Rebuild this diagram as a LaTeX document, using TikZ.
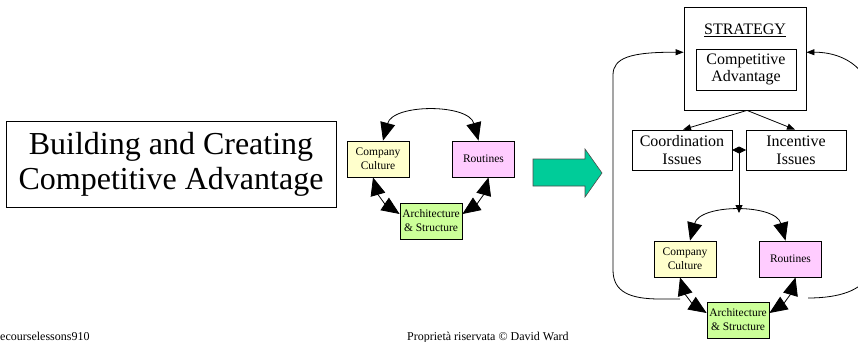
\documentclass[tikz,border=0pt]{standalone}
\usepackage{fontspec}
\setmainfont{Liberation Serif}
\usetikzlibrary{arrows.meta,calc}
\definecolor{ccfill}{RGB}{255,255,204}
\definecolor{rtfill}{RGB}{255,204,255}
\definecolor{asfill}{RGB}{204,255,153}
\definecolor{arrowgreen}{RGB}{0,204,153}
\begin{document}
\begin{tikzpicture}[x=1pt,y=-1pt,
  box/.style={draw, line width=0.8pt, inner sep=0pt, align=center},
  smallbox/.style={box, minimum width=62pt, minimum height=36pt, font=\fontsize{11.5}{14}\selectfont},
  issuebox/.style={box, minimum width=100pt, minimum height=40pt, font=\fontsize{16}{18}\selectfont},
  cyc/.style={line width=0.8pt, {Triangle[length=18pt,width=15pt]}-{Triangle[length=18pt,width=15pt]}},
  thinarrow/.style={line width=0.8pt, -{Triangle[length=8pt,width=6pt]}},
  foot/.style={anchor=base west, inner sep=0pt, font=\fontsize{12}{14}\selectfont}]
\useasboundingbox (0,0) rectangle (858,342);

% title
\node[box, line width=1pt, minimum width=330pt, minimum height=86pt,
      font=\fontsize{32}{35}\selectfont] (title) at (171,164)
      {Building and Creating\\Competitive Advantage};

% small cycle
\node[smallbox, fill=ccfill] (cc1) at (378,159) {Company\\Culture};
\node[smallbox, fill=rtfill] (rt1) at (483.5,159) {Routines};
\node[smallbox, fill=asfill] (as1) at (431,221) {Architecture\\\& Structure};
\draw[cyc] ($(cc1.north)+(5,0)$) .. controls ($(cc1.north)+(15,-37)$) and ($(rt1.north)+(-15,-37)$) .. ($(rt1.north)+(-5,0)$);
\draw[cyc] ($(cc1.south)+(-5,0)$) to[bend right=20] ($(as1.west)+(0,-7)$);
\draw[cyc] ($(rt1.south)+(5,0)$) to[bend left=20] ($(as1.east)+(0,-7)$);

% block arrow
\draw[fill=arrowgreen, draw=black!70, line width=0.6pt]
  (533,159) -- (585,159) -- (585,149) -- (602,173) -- (585,197) -- (585,186) -- (533,186) -- cycle;

% strategy block
\node[box, minimum width=122pt, minimum height=103pt] (strat) at (745,58.5) {};
\node[inner sep=0pt, anchor=base, font=\fontsize{16}{18}\selectfont] (stratlabel) at (745,35) {\underline{STRATEGY}};
\node[box, minimum width=100pt, minimum height=41pt, font=\fontsize{16}{17}\selectfont] (ca) at (746,69.5) {Competitive\\Advantage};
\node[issuebox] (coord) at (682,150) {Coordination\\Issues};
\node[issuebox] (inc) at (796,150) {Incentive\\Issues};
\draw[thinarrow] ($(strat.south)+(2,0)$) -- ($(coord.north)+(1,0)$);
\draw[thinarrow] ($(strat.south)+(2,0)$) -- ($(inc.north)+(-1,0)$);

% lower cycle
\node[smallbox, fill=ccfill] (cc2) at (685,259) {Company\\Culture};
\node[smallbox, fill=rtfill] (rt2) at (790.5,259) {Routines};
\node[smallbox, fill=asfill] (as2) at (738,320) {Architecture\\\& Structure};
\draw[cyc] ($(cc2.north)+(5,0)$) .. controls ($(cc2.north)+(15,-37)$) and ($(rt2.north)+(-15,-37)$) .. ($(rt2.north)+(-5,0)$);
\draw[cyc] ($(cc2.south)+(-5,0)$) to[bend right=20] ($(as2.west)+(0,-7)$);
\draw[cyc] ($(rt2.south)+(5,0)$) to[bend left=20] ($(as2.east)+(0,-7)$);

% issues feed the cycle
\coordinate (jn) at ($(coord.east)!0.5!(inc.west)$);
\coordinate (topy) at (0,213);
\coordinate (arctop) at (jn |- topy);
\draw[line width=0.8pt, {Diamond[length=7pt,width=14pt]}-{Triangle[length=8pt,width=7pt]}]
  ($(jn)+(0,-3.5)$) -- (arctop);

% feedback loops to strategy
\coordinate (fbL) at (680,299);
\coordinate (fbR) at (808,298);
\draw[thinarrow] (fbL) -- (660,299) .. controls (630,299) and (613,292) .. (613,270)
  -- (613,75) .. controls (613,58) and (630,52) .. ($(strat.north west)!0.44!(strat.south west)$);
\draw[thinarrow] (fbR) .. controls (840,298) and (862,290) .. (868,275)
  -- (868,85) .. controls (862,65) and (840,52) .. ($(strat.north east)!0.44!(strat.south east)$);

% footer
\node[foot] (src) at (0,340) {ecourselessons910};
\node[foot] (rights) at (407,340) {Proprietà riservata © David Ward};
\end{tikzpicture}
\end{document}
